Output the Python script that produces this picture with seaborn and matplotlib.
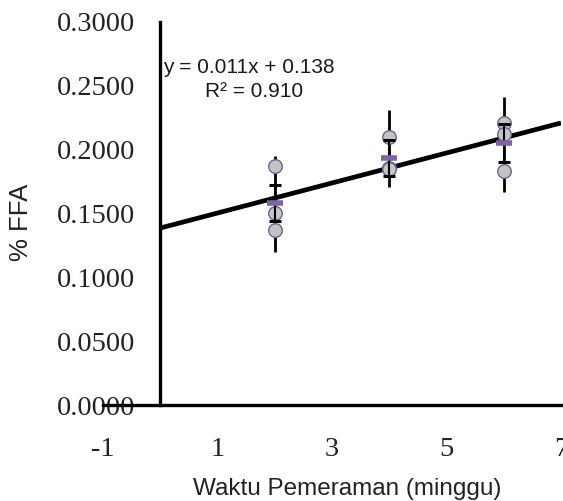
import matplotlib
matplotlib.use("Agg")
import matplotlib.pyplot as plt
import numpy as np
import pandas as pd
import seaborn as sns
from matplotlib.ticker import FormatStrFormatter

# data (weeks of ripening vs % FFA, three replicates)
weeks = [2, 4, 6]
ffa_rep1 = [0.1872, 0.2097, 0.2206]
ffa_rep2 = [0.1506, 0.1860, 0.2120]
ffa_rep3 = [0.1370, 0.1845, 0.1833]
ffa_sem = [0.0140, 0.0139, 0.0149]
range_low = [0.1200, 0.1705, 0.1670]
range_high = [0.1950, 0.2310, 0.2415]

x_ticks = [-1, 1, 3, 5, 7]
y_ticks = [0.0, 0.05, 0.10, 0.15, 0.20, 0.25, 0.30]
eq_text = "y = 0.011x + 0.138"
r2_text = "R² = 0.910"

df = pd.DataFrame({
    "week": weeks * 3,
    "ffa": ffa_rep1 + ffa_rep2 + ffa_rep3,
})
means = df.groupby("week")["ffa"].mean()

sns.set_theme(style="white")
plt.rcParams["font.family"] = ["Liberation Sans", "DejaVu Sans"]
plt.rcParams["axes.unicode_minus"] = False

fig = plt.figure(figsize=(5.63, 5.01), dpi=100)
ax = fig.add_axes([0.183, 0.1916, 0.8134, 0.7645])

# long whiskers without caps
ax.vlines(weeks, range_low, range_high, color="black", lw=2, zorder=2)

# trendline on the means, from the y axis to the right end
slope, intercept = np.polyfit(means.index.values, means.values, 1)
xs = np.array([0, 7])
ax.plot(xs, slope * xs + intercept, color="black", lw=3.4, zorder=3,
        solid_capstyle="butt")

# replicate points
sns.scatterplot(data=df, x="week", y="ffa", ax=ax, s=95, color="#C4C4C4",
                edgecolor="#6A6494", linewidth=1.0, zorder=4, legend=False)

# means with SE bars
ax.errorbar(means.index.values, means.values, yerr=ffa_sem, fmt="none",
            ecolor="black", elinewidth=1.5, capsize=4.5, capthick=2.2, zorder=5)
ax.plot(means.index.values, means.values, ls="none", marker="_", ms=12,
        mew=4, color="#8064A2", zorder=6)

ax.text(1.545, 0.2647, eq_text, ha="center", va="center", fontsize=15,
        color="#1a1a1a")
ax.text(1.63, 0.2452, r2_text, ha="center", va="center", fontsize=15,
        color="#1a1a1a")

ax.set_xlim(-1, 7)
ax.set_ylim(0, 0.3)
ax.set_xticks(x_ticks)
ax.set_yticks(y_ticks)
ax.yaxis.set_major_formatter(FormatStrFormatter("%.4f"))

for side in ["top", "right"]:
    ax.spines[side].set_visible(False)
ax.spines["left"].set_position(("data", 0))
for side in ["left", "bottom"]:
    ax.spines[side].set_color("black")
    ax.spines[side].set_linewidth(2.4)

ax.tick_params(axis="both", direction="out", length=6, width=2.2,
               color="black", labelcolor="#222222")
ax.tick_params(axis="y", pad=12)
ax.tick_params(axis="x", pad=17)
for lab in ax.get_xticklabels() + ax.get_yticklabels():
    lab.set_fontfamily("Liberation Serif")
    lab.set_fontsize(20.5)

ax.set_xlabel("Waktu Pemeraman (minggu)", fontsize=17.5, color="#222222")
ax.set_ylabel("% FFA", fontsize=18.5, color="#222222")
ax.xaxis.set_label_coords(0.534, -0.19)
ax.yaxis.set_label_coords(-0.153, 0.478)

fig.savefig("out.png", dpi=100)
